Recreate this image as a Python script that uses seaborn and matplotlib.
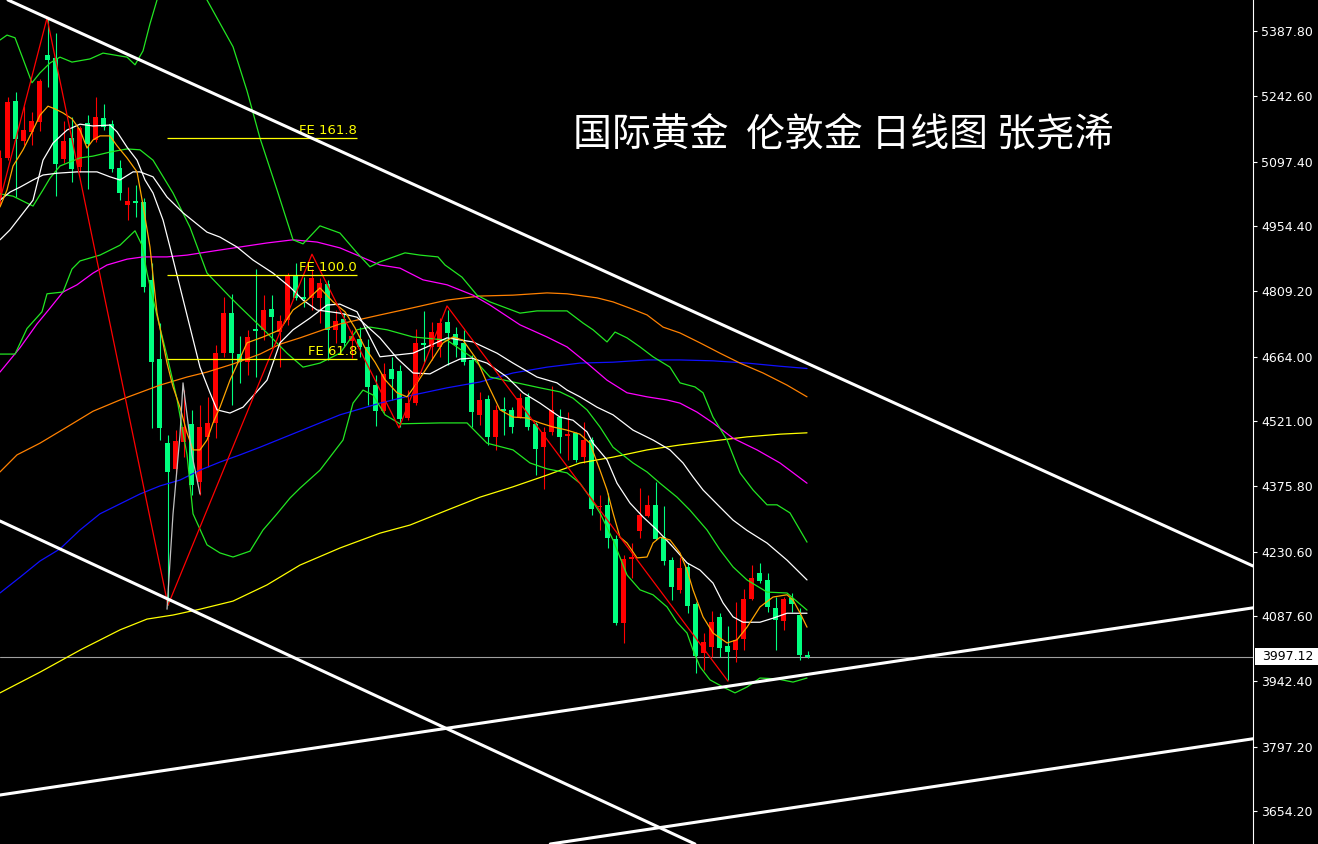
import numpy as np
import pandas as pd
import matplotlib
matplotlib.use('Agg')
import matplotlib.pyplot as plt
import matplotlib.transforms as mtransforms
from matplotlib.patches import Rectangle
import seaborn as sns

# ---- candles (daily, index 0 = first full candle on the left) ----
CANDLE_IDX = list(range(-1, 101))
OPEN = [5017, 5106, 5232, 5144, 5164, 5186, 5335, 5328, 5104, 5150, 5086, 5184, 5146, 5195, 5181, 5084,
        5001, 5010, 5008, 4835, 4659, 4472, 4415, 4475, 4515, 4386, 4486, 4517, 4672, 4761, 4670, 4652,
        4726, 4724, 4770, 4719, 4746, 4846, 4797, 4795, 4795, 4826, 4724, 4748, 4699, 4704, 4686, 4601,
        4543, 4637, 4632, 4528, 4561, 4695, 4686, 4686, 4741, 4715, 4695, 4657, 4535, 4570, 4486, 4548,
        4546, 4530, 4575, 4515, 4463, 4497, 4530, 4488, 4495, 4441, 4479, 4330, 4335, 4259, 4072, 4215,
        4277, 4310, 4335, 4263, 4212, 4146, 4197, 4115, 4006, 4019, 4086, 4021, 4012, 4037, 4126, 4183,
        4168, 4106, 4077, 4128, 4090, 4001]
HIGH = [5124, 5241, 5253, 5221, 5208, 5281, 5417, 5384, 5188, 5197, 5177, 5201, 5241, 5226, 5190, 5101,
        5041, 5046, 5017, 4872, 4739, 4490, 4501, 4590, 4546, 4557, 4575, 4690, 4797, 4804, 4710, 4724,
        4859, 4801, 4801, 4757, 4850, 4872, 4841, 4859, 4839, 4835, 4768, 4761, 4724, 4730, 4704, 4624,
        4650, 4664, 4646, 4590, 4726, 4766, 4741, 4750, 4768, 4730, 4724, 4668, 4586, 4579, 4557, 4575,
        4552, 4583, 4583, 4519, 4508, 4599, 4548, 4541, 4497, 4519, 4486, 4357, 4361, 4268, 4223, 4250,
        4372, 4357, 4386, 4332, 4219, 4219, 4206, 4119, 4050, 4099, 4095, 4066, 4119, 4148, 4201, 4206,
        4183, 4130, 4130, 4139, 4106, 4010]
LOW = [5001, 5101, 5019, 5135, 5135, 5166, 5264, 5021, 5095, 5052, 5075, 5037, 5141, 5168, 5075, 5012,
       4968, 4975, 4808, 4506, 4479, 4112, 4401, 4441, 4357, 4357, 4419, 4483, 4664, 4557, 4606, 4624,
       4619, 4701, 4686, 4641, 4735, 4790, 4775, 4768, 4739, 4657, 4695, 4686, 4661, 4664, 4557, 4510,
       4539, 4568, 4508, 4523, 4557, 4652, 4657, 4664, 4646, 4664, 4646, 4508, 4512, 4468, 4457, 4490,
       4495, 4528, 4501, 4401, 4370, 4490, 4450, 4435, 4430, 4428, 4312, 4279, 4239, 4068, 4028, 4172,
       4261, 4308, 4257, 4201, 4123, 4139, 4095, 3961, 3968, 3997, 3997, 3946, 3986, 4012, 4123, 4161,
       4097, 4012, 4057, 4097, 3990, 3995]
CLOSE = [5106, 5230, 5148, 5168, 5188, 5277, 5324, 5092, 5144, 5081, 5172, 5137, 5197, 5175, 5081, 5028,
         5010, 5006, 4819, 4652, 4506, 4408, 4477, 4508, 4379, 4508, 4517, 4672, 4761, 4672, 4652, 4708,
         4721, 4768, 4752, 4744, 4846, 4795, 4792, 4839, 4828, 4724, 4744, 4695, 4710, 4686, 4597, 4543,
         4626, 4615, 4526, 4561, 4695, 4690, 4719, 4739, 4717, 4690, 4652, 4541, 4568, 4486, 4546, 4543,
         4508, 4572, 4508, 4459, 4497, 4546, 4486, 4492, 4435, 4479, 4326, 4332, 4261, 4072, 4215, 4219,
         4312, 4335, 4259, 4210, 4152, 4195, 4110, 3999, 4030, 4074, 4017, 4008, 4035, 4126, 4172, 4166,
         4108, 4079, 4126, 4115, 4001, 3997.12]
LAST_PRICE = 3997.12

# ---- indicator lines (x = candle index, y = price) ----
BB_UP_X = [-0.94, -0.06, 0.94, 1.94, 3.06, 4.06, 5.31, 6.56, 8.06, 10.31, 11.94, 14.94, 15.94, 16.94, 17.81,
           18.69, 19.69, 21.81, 23.81, 24.94, 28.19, 29.94, 31.56, 33.69, 35.69, 36.94, 39.06, 41.56, 43.69,
           45.31, 46.56, 49.69, 51.56, 53.81, 54.69, 56.81, 58.69, 60.31, 64.06, 66.19, 69.94, 71.94, 73.19,
           74.94, 75.94, 77.44, 79.06, 80.69, 82.81, 84.06, 85.94, 86.94, 88.19, 89.94, 91.56, 93.19, 94.94,
           96.19, 97.81, 99.94]
BB_UP_Y = [5368, 5379, 5373, 5326, 5273, 5295, 5317, 5330, 5319, 5326, 5339, 5330, 5313, 5344, 5404,
           5457, 5513, 5557, 5513, 5457, 5353, 5255, 5150, 5035, 4924, 4915, 4955, 4939, 4895,
           4864, 4875, 4895, 4890, 4886, 4868, 4841, 4801, 4786, 4761, 4766, 4766, 4739, 4724,
           4697, 4719, 4706, 4686, 4664, 4641, 4606, 4597, 4584, 4530, 4479, 4406, 4368, 4335,
           4335, 4317, 4252]
BB_MID_X = [-0.94, 0.69, 3.19, 4.44, 5.31, 6.56, 9.06, 10.69, 12.81, 14.94, 16.56, 18.19, 20.69, 22.81,
            24.94, 27.81, 29.06, 32.44, 34.94, 36.94, 39.06, 41.56, 43.69, 45.31, 47.44, 50.69, 54.94,
            58.19, 60.31, 63.19, 66.56, 69.06, 70.69, 72.44, 74.06, 75.69, 78.19, 79.94, 81.56, 83.69,
            85.31, 87.44, 89.06, 90.69, 92.44, 94.94, 97.44, 99.94]
BB_MID_Y = [5026, 5021, 4999, 5035, 5061, 5088, 5106, 5110, 5119, 5126, 5124, 5101, 5028, 4952,
            4850, 4797, 4775, 4717, 4672, 4641, 4650, 4672, 4724, 4730, 4724, 4708, 4701,
            4661, 4619, 4608, 4595, 4586, 4572, 4546, 4508, 4463, 4428, 4408, 4383, 4352,
            4323, 4279, 4235, 4197, 4168, 4141, 4139, 4101]
BB_LOW_X = [-0.94, 0.94, 2.44, 4.31, 4.94, 6.94, 8.06, 9.06, 11.56, 14.06, 15.94, 16.81, 17.44, 18.69,
            19.94, 21.19, 22.44, 23.19, 24.94, 26.56, 28.19, 30.31, 31.94, 33.69, 35.31, 36.56, 39.06,
            41.94, 43.19, 44.44, 45.69, 47.19, 49.06, 54.06, 57.44, 59.94, 63.19, 65.31, 67.44, 69.94,
            71.56, 72.81, 74.06, 75.69, 77.44, 79.06, 80.69, 82.44, 83.69, 84.94, 85.69, 86.56, 87.81,
            89.44, 90.94, 92.44, 94.06, 96.19, 98.19, 99.94]
BB_LOW_Y = [4670, 4670, 4727, 4764, 4804, 4808, 4859, 4877, 4890, 4912, 4944, 4912, 4850, 4755,
            4666, 4570, 4446, 4315, 4246, 4228, 4219, 4232, 4279, 4315, 4350, 4372, 4412,
            4479, 4561, 4590, 4579, 4535, 4515, 4517, 4517, 4472, 4457, 4428, 4415, 4406,
            4383, 4352, 4317, 4257, 4179, 4146, 4135, 4108, 4074, 4050, 4012, 3975, 3946,
            3930, 3917, 3930, 3950, 3948, 3941, 3950]
WHITE_A_X = [-0.94, 0.31, 3.19, 4.44, 5.69, 7.44, 9.06, 10.69, 12.81, 13.69, 14.94, 16.19, 17.19, 18.19,
             19.44, 20.31, 21.56, 22.81, 24.06, 25.31, 26.19, 27.81, 29.44, 32.44, 34.06, 35.69, 37.81,
             39.94, 41.56, 43.69, 46.56, 50.69, 54.94, 58.19, 61.19, 63.19, 66.19, 68.69, 69.94, 71.56,
             73.69, 75.69, 78.19, 80.69, 82.81, 84.44, 85.69, 86.94, 89.06, 90.69, 92.44, 94.94, 97.44,
             99.94]
WHITE_A_Y = [4924, 4946, 5012, 5101, 5139, 5168, 5181, 5177, 5179, 5164, 5130, 5101, 5057, 5028,
             4968, 4908, 4819, 4730, 4641, 4584, 4546, 4539, 4552, 4612, 4695, 4724, 4750,
             4779, 4781, 4764, 4664, 4672, 4706, 4697, 4672, 4650, 4619, 4606, 4590, 4575,
             4552, 4535, 4501, 4479, 4457, 4428, 4397, 4368, 4330, 4301, 4278, 4250, 4212,
             4168]
WHITE_B_X = [-0.94, 0.31, 1.56, 3.19, 4.44, 6.19, 8.69, 11.19, 12.81, 14.06, 15.69, 16.56, 18.19, 19.94,
             21.94, 24.94, 26.56, 28.69, 30.69, 33.19, 35.31, 36.94, 38.69, 41.56, 43.69, 46.56, 48.69,
             50.69, 52.81, 54.94, 56.56, 58.06, 59.94, 62.44, 64.44, 66.56, 69.06, 70.69, 72.44, 73.19,
             74.94, 76.19, 77.81, 79.44, 81.19, 83.19, 84.94, 86.56, 88.19, 89.44, 90.69, 91.94, 94.06,
             95.69, 97.44, 99.94]
WHITE_B_Y = [5012, 5030, 5041, 5057, 5068, 5072, 5075, 5075, 5064, 5057, 5075, 5075, 5064, 5019,
             4984, 4941, 4930, 4908, 4879, 4850, 4819, 4790, 4768, 4761, 4752, 4706, 4661,
             4628, 4626, 4646, 4659, 4661, 4650, 4619, 4584, 4561, 4530, 4523, 4497, 4472,
             4435, 4383, 4339, 4308, 4279, 4241, 4206, 4190, 4161, 4117, 4086, 4074, 4074,
             4083, 4094, 4094]
ORANGE_SLOW_X = [-0.94, 1.19, 4.06, 7.44, 10.69, 14.06, 19.06, 22.44, 24.94, 28.19, 31.56, 34.06, 36.56,
                 41.56, 46.56, 50.69, 54.94, 59.06, 63.19, 67.44, 69.94, 73.69, 75.69, 77.81, 79.94,
                 81.94, 84.06, 86.56, 89.06, 91.56, 94.44, 97.44, 99.94]
ORANGE_SLOW_Y = [4408, 4446, 4472, 4508, 4543, 4568, 4601, 4619, 4630, 4648, 4670, 4692, 4706,
                 4737, 4757, 4773, 4790, 4799, 4801, 4806, 4804, 4795, 4786, 4772, 4757,
                 4730, 4717, 4695, 4672, 4650, 4628, 4601, 4575]
MAGENTA_X = [-0.94, 1.56, 3.69, 5.31, 6.94, 8.69, 10.69, 12.44, 14.94, 16.94, 19.94, 22.44, 25.69, 29.06,
             32.44, 35.69, 38.69, 41.56, 43.69, 46.56, 49.06, 51.94, 54.94, 58.19, 60.31, 64.06, 67.44,
             69.94, 72.44, 74.94, 77.44, 79.94, 82.44, 84.06, 86.19, 88.19, 90.69, 93.69, 96.56, 99.94]
MAGENTA_Y = [4630, 4684, 4737, 4772, 4808, 4824, 4850, 4868, 4881, 4886, 4886, 4890, 4899, 4908,
             4917, 4924, 4919, 4906, 4890, 4868, 4861, 4835, 4824, 4801, 4779, 4735, 4708,
             4686, 4650, 4612, 4584, 4575, 4568, 4561, 4541, 4517, 4483, 4457, 4428, 4383]
BLUE_X = [-0.94, 1.56, 4.06, 6.56, 9.06, 11.56, 14.06, 16.56, 19.06, 21.56, 24.06, 26.56, 29.06, 31.56,
          34.06, 36.56, 41.56, 46.56, 50.69, 54.94, 59.06, 63.19, 67.44, 71.56, 75.69, 79.94, 84.06,
          88.19, 92.44, 96.56, 99.94]
BLUE_Y = [4139, 4174, 4210, 4237, 4279, 4315, 4337, 4359, 4377, 4390, 4412, 4430, 4446, 4463,
          4481, 4499, 4535, 4561, 4579, 4595, 4608, 4628, 4641, 4650, 4652, 4657, 4657,
          4655, 4650, 4643, 4638]
YELLOW_X = [-0.94, 4.06, 9.06, 14.06, 17.44, 20.69, 24.06, 28.19, 32.44, 36.56, 41.56, 46.56, 50.31,
            54.94, 59.06, 63.19, 67.44, 71.56, 75.69, 79.94, 84.06, 88.19, 92.44, 96.56, 99.94]
YELLOW_Y = [3917, 3963, 4012, 4057, 4081, 4090, 4103, 4121, 4157, 4201, 4239, 4272, 4290,
            4323, 4352, 4375, 4401, 4428, 4441, 4457, 4468, 4477, 4486, 4492, 4495]
ORANGE_FAST_X = [-0.94, -0.06, 0.69, 1.94, 3.19, 4.06, 5.06, 5.94, 6.94, 8.06, 9.06, 9.94, 10.69, 11.56,
                 12.81, 13.69, 14.94, 16.19, 16.94, 17.81, 18.69, 19.94, 20.69, 21.56, 22.44, 23.19,
                 24.06, 24.94, 25.69, 26.56, 27.81, 29.94, 31.94, 34.06, 35.69, 37.44, 39.06, 40.69,
                 42.19, 43.44, 44.69, 45.94, 47.19, 48.69, 49.94, 51.19, 52.81, 54.44, 55.69, 56.94,
                 58.69, 59.94, 61.56, 63.19, 64.94, 66.56, 68.19, 69.94, 71.56, 72.81, 74.06, 74.94,
                 75.69, 76.56, 77.44, 78.69, 79.94, 80.69, 81.56, 82.81, 84.06, 84.94, 85.69, 86.94,
                 88.19, 89.94, 91.19, 92.44, 94.06, 95.69, 97.44, 98.19, 99.06, 99.94]
ORANGE_FAST_Y = [4997, 5035, 5088, 5124, 5168, 5201, 5221, 5215, 5206, 5193, 5168, 5128, 5146, 5155,
                 5155, 5133, 5106, 5075, 5001, 4908, 4761, 4650, 4597, 4552, 4495, 4457,
                 4457, 4479, 4517, 4552, 4612, 4695, 4708, 4724, 4768, 4790, 4817, 4786,
                 4764, 4728, 4684, 4652, 4613, 4584, 4575, 4606, 4650, 4695, 4708, 4701,
                 4657, 4606, 4546, 4530, 4528, 4517, 4508, 4501, 4492, 4472, 4412, 4368,
                 4317, 4263, 4250, 4217, 4219, 4250, 4263, 4257, 4228, 4190, 4146, 4086,
                 4050, 4028, 4035, 4063, 4108, 4130, 4135, 4123, 4095, 4063]

# zigzag swings and the grey spike line
ZIGZAG_X = [-0.94, 4.94, 20.06, 38.06, 48.94, 54.94, 90.06]
ZIGZAG_Y = [5012, 5417, 4112, 4892, 4506, 4777, 3943]
GREY_X = [19.94, 20.69, 21.56, 21.94, 22.44, 23.06, 24.06]
GREY_Y = [4103, 4315, 4490, 4606, 4535, 4446, 4359]

# Fibonacci expansion levels
FE_LEVELS = [5150, 4846, 4659]
FE_LABELS = ['FE 161.8', 'FE 100.0', 'FE 61.8']
FE_FROM, FE_TO = 19.94, 43.69

# channel / trend lines, two anchor points each (index, price)
TREND_LINES = [
    [(0.06, 5457), (155.69, 4199)],
    [(-0.94, 4299), (85.94, 3581)],
    [(-0.94, 3690), (155.69, 4106)],
    [(67.81, 3581), (155.69, 3815)],
]

PRICE_TICKS = [5387.80, 5242.60, 5097.40, 4954.40, 4809.20, 4664.00, 4521.00,
               4375.80, 4230.60, 4087.60, 3942.40, 3797.20, 3654.20]

TITLE = '国际黄金  伦敦金 日线图 张尧浠'

UP_COLOR = '#ff0000'
DOWN_COLOR = '#00ff7f'

sns.set_theme(style='dark', rc={'axes.facecolor': 'black', 'figure.facecolor': 'black',
                                'axes.grid': False})
plt.rcParams['font.family'] = ['DejaVu Sans', 'Noto Sans CJK SC']

fig = plt.figure(figsize=(13.18, 8.44), dpi=100)
ax = fig.add_axes([0, 0, 1253 / 1318, 1])
ax.set_facecolor('black')

# current price line
ax.axhline(LAST_PRICE, color='#a0a0a0', lw=0.8, zorder=1)

# candles
df = pd.DataFrame({'i': CANDLE_IDX, 'o': OPEN, 'h': HIGH, 'l': LOW, 'c': CLOSE})
df['color'] = np.where(df['c'] >= df['o'], UP_COLOR, DOWN_COLOR)
ax.vlines(df['i'], df['l'], df['h'], colors=df['color'], lw=0.8, zorder=3)
body_bottom = df[['o', 'c']].min(axis=1)
body_height = (df['c'] - df['o']).abs().clip(lower=2.5)
ax.bar(df['i'], body_height, bottom=body_bottom, width=0.62, color=df['color'],
       linewidth=0, zorder=4)

# indicator lines
lines = [
    (YELLOW_X, YELLOW_Y, '#ffff00'),
    (BLUE_X, BLUE_Y, '#1010ff'),
    (ORANGE_SLOW_X, ORANGE_SLOW_Y, '#ff8000'),
    (MAGENTA_X, MAGENTA_Y, '#ff00ff'),
    (BB_UP_X, BB_UP_Y, '#22e622'),
    (BB_MID_X, BB_MID_Y, '#22e622'),
    (BB_LOW_X, BB_LOW_Y, '#22e622'),
    (WHITE_A_X, WHITE_A_Y, '#ffffff'),
    (WHITE_B_X, WHITE_B_Y, '#ffffff'),
    (ORANGE_FAST_X, ORANGE_FAST_Y, '#ffa500'),
    (ZIGZAG_X, ZIGZAG_Y, '#ff0000'),
    (GREY_X, GREY_Y, '#c0c0c0'),
]
for xs, ys, col in lines:
    sns.lineplot(x=xs, y=ys, ax=ax, color=col, lw=0.9, sort=False, estimator=None,
                 legend=False, zorder=5)

# fibonacci expansion levels
for level, label in zip(FE_LEVELS, FE_LABELS):
    ax.hlines(level, FE_FROM, FE_TO, color='#ffff00', lw=0.9, zorder=6)
    ax.text(FE_TO, level + 3, label, color='#ffff00', fontsize=9.5, ha='right', va='bottom', zorder=6)

# channel lines
for p1, p2 in TREND_LINES:
    ax.axline(p1, p2, color='white', lw=2.2, zorder=7)

ax.set_xlim(-0.9375, 155.6875)
ax.set_ylim(3581.1, 5457.0)

# right price scale
ax.yaxis.tick_right()
ax.set_yticks(PRICE_TICKS)
ax.set_yticklabels([f'{v:.2f}' for v in PRICE_TICKS])
ax.set_xticks([])
ax.set_xlabel('')
ax.set_ylabel('')
ax.tick_params(axis='y', colors='white', labelcolor='white', length=3, width=0.8, pad=3,
               labelsize=9, direction='out', right=True, left=False)
for s in ['left', 'top', 'bottom']:
    ax.spines[s].set_visible(False)
ax.spines['right'].set_color('white')
ax.spines['right'].set_linewidth(0.8)

# last price tag
trans = mtransforms.blended_transform_factory(ax.transAxes, ax.transData)
ax.add_patch(Rectangle((1.0015, LAST_PRICE - 19), 0.052, 38, transform=trans, facecolor='white',
                       edgecolor='none', clip_on=False, zorder=10))
ax.text(1.0072, LAST_PRICE, f'{LAST_PRICE:.2f}', transform=trans, color='black', fontsize=9,
        ha='left', va='center', zorder=11, clip_on=False)

fig.text(573 / 1318, 1 - 134 / 844, TITLE, color='white', fontsize=28, fontweight='medium',
         family=['Noto Sans CJK SC', 'DejaVu Sans'], ha='left', va='center')

fig.savefig('out.png', dpi=100, facecolor='black')
